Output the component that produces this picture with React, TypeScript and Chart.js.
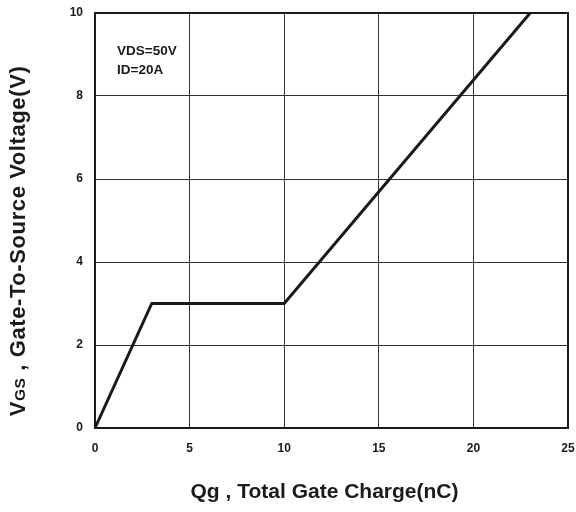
import React, { useEffect, useRef } from "react";
import { Chart, registerables } from "chart.js";

Chart.register(...registerables);

const chargeNC = [0, 3, 10, 23];
const gateVoltage = [0, 3, 3, 10];
const xTicks = [0, 5, 10, 15, 20, 25];
const yTicks = [0, 2, 4, 6, 8, 10];
const noteLines = ["VDS=50V", "ID=20A"];
const xTitle = "Qg , Total Gate Charge(nC)";
const yTitleMain = "V";
const yTitleSub = "GS";
const yTitleRest = " , Gate-To-Source Voltage(V)";

const FONT = "Arial, 'Liberation Sans', sans-serif";

const decorPlugin = {
  id: "decor",
  afterDraw(chart: any) {
    const { ctx, chartArea } = chart;
    const { left, right, top, bottom } = chartArea;
    ctx.save();
    // frame
    ctx.strokeStyle = "#1a1a1a";
    ctx.lineWidth = 2;
    ctx.strokeRect(left, top, right - left, bottom - top);
    // note
    ctx.fillStyle = "#1a1a1a";
    ctx.font = `bold 13.5px ${FONT}`;
    ctx.textAlign = "left";
    ctx.textBaseline = "alphabetic";
    ctx.fillText(noteLines[0], left + 22, 55);
    ctx.fillText(noteLines[1], left + 22, 74);
    // x title
    ctx.font = `bold 21px ${FONT}`;
    ctx.textAlign = "center";
    ctx.textBaseline = "alphabetic";
    ctx.fillText(xTitle, (left + right) / 2 - 7, 498);
    // y title (rotated)
    ctx.translate(25, 241);
    ctx.rotate(-Math.PI / 2);
    (ctx as any).letterSpacing = "0.6px";
    const bigFont = `bold 22px ${FONT}`;
    const smallFont = `bold 15.5px ${FONT}`;
    ctx.font = bigFont;
    const w1 = ctx.measureText(yTitleMain).width;
    const w3 = ctx.measureText(yTitleRest).width;
    ctx.font = smallFont;
    const w2 = ctx.measureText(yTitleSub).width;
    const total = w1 + w2 + w3;
    let x = -total / 2;
    const base = 0;
    ctx.textAlign = "left";
    ctx.font = bigFont;
    ctx.fillText(yTitleMain, x, base);
    x += w1;
    ctx.font = smallFont;
    ctx.fillText(yTitleSub, x, base);
    x += w2;
    ctx.font = bigFont;
    ctx.fillText(yTitleRest, x, base);
    ctx.restore();
  },
};

export default function App() {
  const ref = useRef<HTMLCanvasElement>(null);
  useEffect(() => {
    document.body.style.margin = "0";
    const canvas = ref.current!;
    const chart = new Chart(canvas, {
      type: "line",
      data: {
        datasets: [
          {
            data: chargeNC.map((x, i) => ({ x, y: gateVoltage[i] })),
            borderColor: "#1a1a1a",
            borderWidth: 3,
            pointRadius: 0,
            tension: 0,
            fill: false,
          },
        ],
      },
      options: {
        animation: false,
        responsive: false,
        layout: { padding: { top: 13, right: 8, left: 0, bottom: 0 } },
        plugins: { legend: { display: false }, tooltip: { enabled: false } },
        scales: {
          x: {
            type: "linear",
            min: 0,
            max: 25,
            afterBuildTicks: (s: any) => {
              s.ticks = xTicks.map((v) => ({ value: v }));
            },
            afterFit: (s: any) => {
              s.height = 84;
              s.paddingLeft = 0;
              s.paddingRight = 0;
            },
            grid: { color: "#333", lineWidth: 1, drawTicks: false },
            border: { display: false },
            ticks: {
              color: "#1a1a1a",
              font: { family: FONT, size: 12, weight: "bold" },
              padding: 13,
              maxRotation: 0,
            },
          },
          y: {
            type: "linear",
            min: 0,
            max: 10,
            afterBuildTicks: (s: any) => {
              s.ticks = yTicks.map((v) => ({ value: v }));
            },
            afterFit: (s: any) => {
              s.width = 95;
              s.paddingTop = 0;
              s.paddingBottom = 0;
            },
            grid: { color: "#333", lineWidth: 1, drawTicks: false },
            border: { display: false },
            ticks: {
              color: "#1a1a1a",
              font: { family: FONT, size: 12, weight: "bold" },
              padding: 12,
            },
          },
        },
      } as any,
      plugins: [decorPlugin],
    });
    return () => chart.destroy();
  }, []);
  return <canvas ref={ref} width={576} height={512} style={{ display: "block" }} />;
}
